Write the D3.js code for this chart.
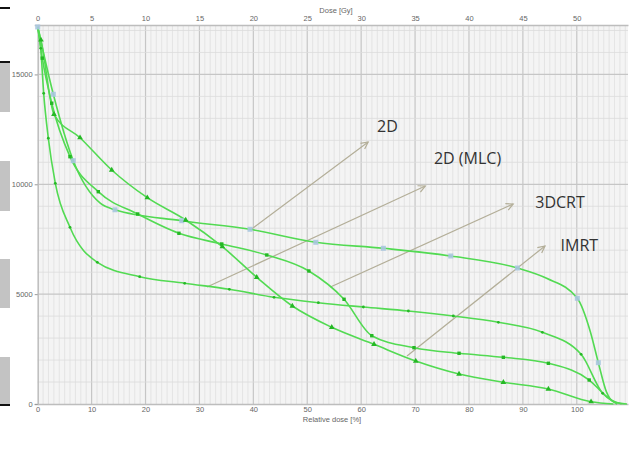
<!DOCTYPE html>
<html>
<head>
<meta charset="utf-8">
<script src="https://cdn.jsdelivr.net/npm/d3@7"></script>
<style>
  body { margin: 0; background: #fff; }
  svg { display: block; }
</style>
</head>
<body>
<div class="chart"></div>
<script>
// DVH curves: [relative dose %, volume, marker?]
var curve2D = [[0,17160,1],[2.9,14097,1],[6.6,11074,1],[11.6,9140,0],[14.34,8840,1],[26.72,8343,1],
  [39.39,7952,1],[51.58,7360,1],[64.12,7087,1],[76.62,6736,1],[88.98,6190,1],[94.4,5720,0],
  [100.1,4811,1],[102.5,3300,0],[104.0,1880,1],[105.5,550,0],[106.8,105,0],[109.3,0,0]];
var curveMLC = [[0,17160,0],[0.56,16190,1],[1.11,14140,1],[1.97,12095,1],[3.27,10045,1],[5.99,8043,1],
  [11.06,6450,1],[18.92,5794,1],[27.27,5494,1],[35.55,5221,1],[43.84,4857,1],[52.06,4611,1],
  [60.41,4415,1],[68.76,4233,1],[77.1,4005,1],[85.45,3719,1],[93.62,3264,1],[100.8,2262,1],
  [104.8,487,1],[108.3,0,0]];
var curve3DCRT = [[0,17160,0],[0.85,15740,1],[2.6,13690,1],[5.99,11256,1],[11.24,9663,1],[18.55,8648,1],
  [26.2,7770,1],[34.14,7283,1],[42.5,6782,1],[50.3,6054,1],[56.83,4766,1],[61.97,3109,1],
  [69.8,2563,1],[78.16,2308,1],[86.38,2126,1],[94.73,1853,1],[102.3,1092,1],[105.6,330,0],[107.5,0,0]];
var curveIMRT = [[0,17160,0],[0.6,16570,1],[3.02,13186,1],[7.85,12120,1],[13.73,10651,1],[20.33,9390,1],
  [27.46,8375,1],[34.25,7160,1],[40.63,5767,1],[47.24,4461,1],[54.55,3491,1],[62.39,2717,1],
  [70.13,1957,1],[78.16,1365,1],[86.38,988,1],[94.73,683,1],[102.65,105,1],[106.8,0,0]];

// label text, label position and arrow (from -> to) in data units
var labelNames = ["2D", "2D (MLC)", "3DCRT", "IMRT"];
var labelPos = [[62.95,12380],[73.5,10910],[92.3,8907],[97.0,6978]];
var arrowLines = [[39.7,7965,61.3,11925],[31.4,5325,71.9,9923],[54.3,5325,88.2,9103],[68.5,2185,94.1,7192]];

var xTicks = [0,10,20,30,40,50,60,70,80,90,100];
var gyTicks = [0,5,10,15,20,25,30,35,40,45,50];
var yTicks = [0,5000,10000,15000];

var svgWidth = 636;
var svgHeight = 458;

var svg = d3.select(".chart")
  .append("svg")
  .attr("width", svgWidth)
  .attr("height", svgHeight);

// scales
var x = d3.scaleLinear().domain([0, 109.5]).range([37.7, 628]);
var xGy = d3.scaleLinear().domain([0, 54.75]).range([37.7, 628]);
var y = d3.scaleLinear().domain([0, 17250]).range([404, 25]);

// screenshot leftovers on the left edge
[[63,112],[161,211],[259,308],[357,404]].forEach(function(b) {
  svg.append("rect").attr("x", 0).attr("y", b[0]).attr("width", 10).attr("height", b[1] - b[0]).attr("fill", "#c3c3c3");
});
[7, 61, 404].forEach(function(v) {
  svg.append("rect").attr("x", 0).attr("y", v).attr("width", 10).attr("height", 2).attr("fill", "#111");
});

// plot background + grid
svg.append("rect")
  .attr("x", x(0)).attr("y", y(17250))
  .attr("width", x(109.5) - x(0)).attr("height", y(0) - y(17250))
  .attr("fill", "#f4f4f4");

var grid = svg.append("g");
d3.range(1, 110).forEach(function(v) {
  grid.append("line")
    .attr("x1", x(v)).attr("x2", x(v)).attr("y1", y(0)).attr("y2", y(17250))
    .attr("stroke", v % 10 === 0 ? "#c6c6c6" : "#e0e0e0")
    .attr("stroke-width", v % 10 === 0 ? 1.2 : 0.8);
});
d3.range(1000, 17001, 1000).forEach(function(v) {
  grid.append("line")
    .attr("x1", x(0)).attr("x2", x(109.5)).attr("y1", y(v)).attr("y2", y(v))
    .attr("stroke", v % 5000 === 0 ? "#c6c6c6" : "#dcdcdc")
    .attr("stroke-width", v % 5000 === 0 ? 1.2 : 0.8);
});

// axes
var bottomAxis = d3.axisBottom(x).tickValues(xTicks).tickSize(0).tickPadding(3);
var topAxis = d3.axisTop(xGy).tickValues(gyTicks).tickSize(0).tickPadding(4);
var leftAxis = d3.axisLeft(y).tickValues(yTicks).tickSize(3).tickPadding(2).tickFormat(d3.format("d"));

function styleAxis(g) {
  g.select(".domain").attr("stroke", "#bdbdbd").attr("stroke-width", 1.5);
  g.selectAll(".tick line").attr("stroke", "#999");
  g.selectAll("text").attr("fill", "#666").style("font-family", "Liberation Sans, Arial, sans-serif").style("font-size", "7.5px");
}

svg.append("g").attr("transform", "translate(0," + y(0) + ")").call(bottomAxis).call(styleAxis);
svg.append("g").attr("transform", "translate(0," + y(17250) + ")").call(topAxis).call(styleAxis);
svg.append("g").attr("transform", "translate(" + x(0) + ",0)").call(leftAxis).call(styleAxis);

svg.append("text")
  .attr("x", 332).attr("y", 422)
  .attr("text-anchor", "middle")
  .style("font-family", "Liberation Sans, Arial, sans-serif").style("font-size", "7.5px")
  .attr("fill", "#666")
  .text("Relative dose [%]");
svg.append("text")
  .attr("x", 336).attr("y", 13)
  .attr("text-anchor", "middle")
  .style("font-family", "Liberation Sans, Arial, sans-serif").style("font-size", "7.5px")
  .attr("fill", "#666")
  .text("Dose [Gy]");

// arrows
svg.append("defs").append("marker")
  .attr("id", "head")
  .attr("markerUnits", "userSpaceOnUse")
  .attr("markerWidth", 12).attr("markerHeight", 12)
  .attr("refX", 0).attr("refY", 0)
  .attr("viewBox", "-8 -6 10 12")
  .attr("orient", "auto")
  .append("path")
  .attr("d", "M-7,-3.5 L0,0 L-7,3.5")
  .attr("fill", "none")
  .attr("stroke", "#b3ae98")
  .attr("stroke-width", 1.2);

svg.selectAll(".arrow").data(arrowLines).enter().append("line")
  .attr("class", "arrow")
  .attr("x1", d => x(d[0])).attr("y1", d => y(d[1]))
  .attr("x2", d => x(d[2])).attr("y2", d => y(d[3]))
  .attr("stroke", "#b3ae98")
  .attr("stroke-width", 1.2)
  .attr("marker-end", "url(#head)");

// curves
var line = d3.line()
  .x(d => x(d[0]))
  .y(d => y(d[1]))
  .curve(d3.curveMonotoneX);

var curves = [curve2D, curveMLC, curve3DCRT, curveIMRT];
curves.forEach(function(c) {
  svg.append("path")
    .datum(c)
    .attr("d", line)
    .attr("fill", "none")
    .attr("stroke", "#52da52")
    .attr("stroke-width", 1.6);
});

// markers
var markGreen = "#25b825";
svg.selectAll(".m2d").data(curve2D.filter(d => d[2])).enter().append("rect")
  .attr("x", d => x(d[0]) - 2.5).attr("y", d => y(d[1]) - 2.5)
  .attr("width", 5).attr("height", 5)
  .attr("fill", "#a9c7df").attr("opacity", 0.9);

svg.selectAll(".mmlc").data(curveMLC.filter(d => d[2])).enter().append("circle")
  .attr("cx", d => x(d[0])).attr("cy", d => y(d[1]))
  .attr("r", 1.4)
  .attr("fill", markGreen);

svg.selectAll(".m3d").data(curve3DCRT.filter(d => d[2])).enter().append("rect")
  .attr("x", d => x(d[0]) - 1.7).attr("y", d => y(d[1]) - 1.7)
  .attr("width", 3.4).attr("height", 3.4)
  .attr("fill", markGreen);

var tri = d3.symbol().type(d3.symbolTriangle).size(14);
svg.selectAll(".mimrt").data(curveIMRT.filter(d => d[2])).enter().append("path")
  .attr("transform", d => "translate(" + x(d[0]) + "," + y(d[1]) + ")")
  .attr("d", tri)
  .attr("fill", markGreen);

// labels
svg.selectAll(".lbl").data(labelNames).enter().append("text")
  .attr("x", (d, i) => x(labelPos[i][0]))
  .attr("y", (d, i) => y(labelPos[i][1]))
  .style("font-family", "Open Sans, sans-serif")
  .style("font-size", "16px")
  .attr("fill", "#333")
  .text(d => d);
</script>
</body>
</html>
